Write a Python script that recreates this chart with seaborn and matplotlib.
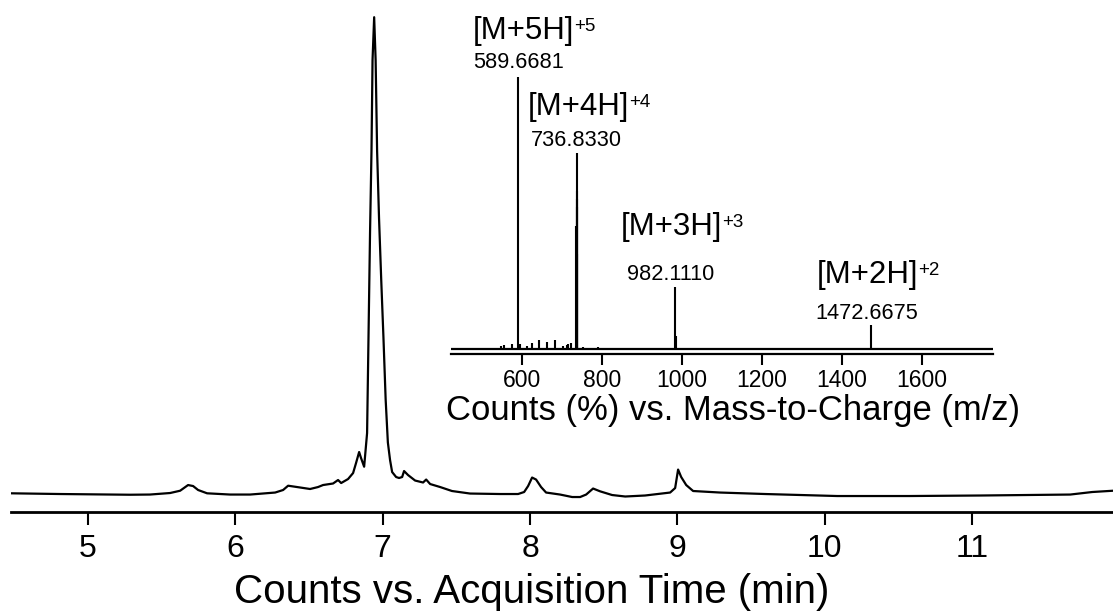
import numpy as np
import pandas as pd
import matplotlib
matplotlib.use("Agg")
import matplotlib.pyplot as plt
import seaborn as sns

# ---------------- data ----------------
# Total ion chromatogram: acquisition time (min) vs relative counts
time_min = [4.477, 4.81, 5.285, 5.42, 5.557, 5.625, 5.679, 5.713, 5.747, 5.808,
            5.964, 6.10, 6.27, 6.324, 6.358, 6.419, 6.507, 6.561, 6.595, 6.663,
            6.697, 6.718, 6.765, 6.799, 6.819, 6.840, 6.853, 6.874, 6.894, 6.904,
            6.914, 6.924, 6.931, 6.942, 6.952, 6.962, 6.975, 6.990, 7.005, 7.020,
            7.035, 7.050, 7.064, 7.091, 7.111, 7.132, 7.145, 7.172, 7.220, 7.274,
            7.295, 7.322, 7.39, 7.47, 7.593, 7.797, 7.919, 7.96, 7.987, 8.014,
            8.041, 8.075, 8.109, 8.204, 8.286, 8.34, 8.381, 8.428, 8.476, 8.557,
            8.646, 8.781, 8.951, 8.985, 9.005, 9.026, 9.06, 9.107, 9.29, 9.596,
            10.085, 10.574, 11.062, 11.667, 11.816, 11.958]
counts_rel = [0.36, 0.21, 0.06, 0.10, 0.42, 0.90, 2.09, 1.88, 1.05, 0.36,
              0.10, 0.10, 0.52, 1.05, 1.95, 1.67, 1.26, 1.67, 2.09, 2.41,
              3.14, 2.51, 3.35, 4.60, 6.69, 9.00, 7.74, 5.92, 12.97, 33.9,
              54.8, 72.2, 91.0, 100.0, 91.0, 72.0, 58.0, 45.0, 33.0, 20.0,
              11.0, 7.3, 4.81, 3.77, 3.56, 3.77, 5.02, 4.18, 3.03, 2.62,
              3.24, 2.30, 1.67, 0.84, 0.31, 0.21, 0.21, 0.63, 1.88, 3.66,
              3.24, 1.67, 0.52, 0.10, -0.42, -0.42, 0.10, 1.36, 0.77, 0.0,
              -0.31, -0.10, 0.52, 1.46, 5.33, 3.77, 2.09, 0.84, 0.52, 0.21,
              -0.21, -0.21, -0.10, 0.10, 0.63, 0.90]

# Mass spectrum (inset): m/z vs relative counts (%)
mz_values = [547, 556, 574, 589.6681, 596, 613, 624, 642, 662, 682, 703, 712, 716, 722,
             735.8, 736.3, 736.8330, 737.3, 737.8, 738.3, 752, 790,
             982.1110, 986.0, 1472.6675]
mz_counts = [0.8, 1.2, 1.5, 100.0, 1.8, 1.0, 2.2, 3.0, 2.5, 3.3, 1.0, 1.2, 1.8, 2.0,
             45.0, 55.0, 72.0, 58.0, 52.0, 35.0, 0.6, 0.4,
             22.7, 4.7, 8.7]

ion_names = ["[M+5H]", "[M+4H]", "[M+3H]", "[M+2H]"]
ion_charges = ["+5", "+4", "+3", "+2"]
ion_mz_text = ["589.6681", "736.8330", "982.1110", "1472.6675"]

main_ticks = [5, 6, 7, 8, 9, 10, 11]
inset_ticks = [600, 800, 1000, 1200, 1400, 1600]

main_xlabel = "Counts vs. Acquisition Time (min)"
inset_xlabel = "Counts (%) vs. Mass-to-Charge (m/z)"

# ---------------- style ----------------
sns.set_theme(style="white")
plt.rcParams['font.family'] = ['Liberation Sans', 'DejaVu Sans']

W, H = 1113, 612
fig = plt.figure(figsize=(W / 100, H / 100), dpi=100)
fig.patch.set_facecolor("white")

# ---------------- main chromatogram ----------------
ax_h = 511.7
ax = fig.add_axes([11 / W, (H - ax_h) / H, (W - 11) / W, ax_h / H])
ax.set_facecolor("none")
chrom = pd.DataFrame({"time": time_min, "counts": counts_rel})
sns.lineplot(data=chrom, x="time", y="counts", ax=ax, color="black",
             linewidth=1.6, sort=False, estimator=None)
ax.set_xlim(4.477, 11.957)
ax.set_ylim(-3.49, 103.6)
for s in ["top", "right", "left"]:
    ax.spines[s].set_visible(False)
ax.spines["bottom"].set_linewidth(2.0)
ax.spines["bottom"].set_color("black")
ax.set_yticks([])
ax.set_ylabel("")
ax.set_xticks(main_ticks)
ax.set_xticklabels([str(t) for t in main_ticks])
ax.tick_params(axis="x", direction="out", length=9, width=1.5, color="black",
               labelsize=23, pad=7, bottom=True, labelcolor="black")
ax.set_xlabel(main_xlabel, fontsize=29, color="black", va="baseline")
ax.xaxis.set_label_coords((532 - 11) / (W - 11), (ax_h - 603) / ax_h)

# ---------------- inset mass spectrum ----------------
ix0, ix1 = 451, 993
iy_bottom = 353.5
axi = fig.add_axes([ix0 / W, (H - iy_bottom) / H, (ix1 - ix0) / W, iy_bottom / H])
axi.set_facecolor("none")
axi.set_xlim(422.5, 1777.5)
axi.set_ylim(-1.84, 128.4)
axi.axhline(0, color="black", linewidth=1.6, zorder=2)
axi.vlines(mz_values, 0, mz_counts, color="black", linewidth=1.5, zorder=3)
for s in ["top", "right", "left"]:
    axi.spines[s].set_visible(False)
axi.spines["bottom"].set_linewidth(1.6)
axi.spines["bottom"].set_color("black")
axi.set_yticks([])
axi.set_xticks(inset_ticks)
axi.set_xticklabels([str(t) for t in inset_ticks])
axi.tick_params(axis="x", direction="out", length=8, width=1.5, color="black",
                labelsize=16.5, pad=3, bottom=True, labelcolor="black")
axi.set_xlabel(inset_xlabel, fontsize=24.9, color="black", va="baseline")
axi.xaxis.set_label_coords((733 - ix0) / (ix1 - ix0), (iy_bottom - 420) / iy_bottom)

# annotation layout (baseline positions in inset data coords)
name_pos = [(477.5, 114.0), (615, 86.0), (847.5, 42.0), (1337.5, 24.0)]
val_pos = [(477.5, 103.3), (622.5, 74.6), (862.5, 25.2), (1332.5, 10.9)]
for name, chg, (nx, ny) in zip(ion_names, ion_charges, name_pos):
    t = axi.text(nx, ny, name, fontsize=22.5, ha="left", va="baseline",
                 color="black")
    axi.annotate(chg, xy=(1, 1), xycoords=t, xytext=(-0.3, -1.5),
                 textcoords="offset points", fontsize=13.5, ha="left",
                 va="top", color="black")
for txt, (vx, vy) in zip(ion_mz_text, val_pos):
    axi.text(vx, vy, txt, fontsize=15.7, ha="left", va="baseline", color="black")

fig.savefig("out.png", dpi=100, facecolor="white")
